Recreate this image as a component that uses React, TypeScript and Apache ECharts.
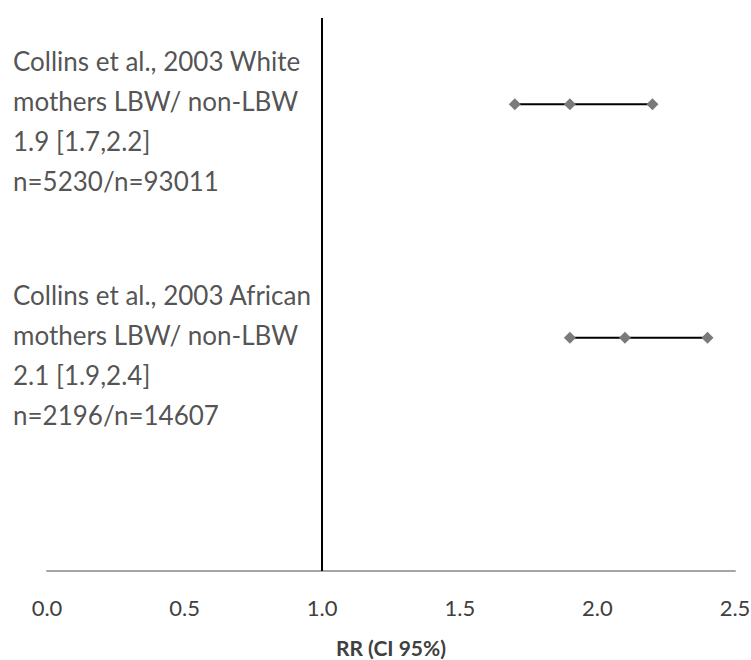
import React, { useEffect, useRef } from "react";
import * as echarts from "echarts";

// Study descriptions, one per row (top to bottom)
const studyLabels = [
  "Collins et al., 2003 White\nmothers LBW/ non-LBW\n1.9 [1.7,2.2]\nn=5230/n=93011",
  "Collins et al., 2003 African\nmothers LBW/ non-LBW\n2.1 [1.9,2.4]\nn=2196/n=14607",
];
// Row position of each study on the vertical value scale
const rowPositions = [2, 1];
// Relative risk point estimates and 95% CI bounds
const estimates = [1.9, 2.1];
const lowerCI = [1.7, 1.9];
const upperCI = [2.2, 2.4];
// Line of no effect
const nullValue = 1;
const xTicks = [0, 0.5, 1, 1.5, 2, 2.5];

const FONT = "Lato, 'Noto Sans', sans-serif";

export default function App() {
  const ref = useRef<HTMLDivElement>(null);

  useEffect(() => {
    if (!ref.current) return;
    const chart = echarts.init(ref.current, undefined, { renderer: "svg" });

    const ciSeries = studyLabels.map((_, i) => ({
      type: "line" as const,
      name: `ci${i}`,
      data: [
        [lowerCI[i], rowPositions[i]],
        [estimates[i], rowPositions[i]],
        [upperCI[i], rowPositions[i]],
      ],
      symbol: "diamond",
      symbolSize: 12,
      showSymbol: true,
      itemStyle: { color: "#7a7a7a" },
      lineStyle: { color: "#000000", width: 2 },
      z: 3,
      silent: true,
    }));

    // Study descriptions anchored at the left end of each row
    const labelSeries = {
      type: "scatter" as const,
      name: "labels",
      data: studyLabels.map((text, i) => ({
        name: text,
        value: [xTicks[0], rowPositions[i]],
      })),
      symbolSize: 0,
      silent: true,
      label: {
        show: true,
        position: "inside",
        align: "left",
        verticalAlign: "middle",
        offset: [-34, 17],
        formatter: (p: { name: string }) => p.name,
        fontFamily: FONT,
        fontSize: 26,
        lineHeight: 40,
        color: "#262626",
      },
    };

    chart.setOption({
      animation: false,
      textStyle: { fontFamily: FONT },
      grid: {
        left: 47,
        right: 16,
        top: 18,
        bottom: 89,
        containLabel: false,
        outerBoundsMode: "none",
      },
      xAxis: {
        type: "value",
        min: xTicks[0],
        max: xTicks[xTicks.length - 1],
        interval: 0.5,
        name: "RR (CI 95%)",
        nameLocation: "middle",
        nameGap: 66,
        nameTextStyle: {
          fontFamily: FONT,
          fontWeight: "bold",
          fontSize: 21,
          color: "#404040",
        },
        axisLine: { show: true, lineStyle: { color: "#a6a6a6", width: 2 } },
        axisTick: { show: false },
        splitLine: { show: false },
        axisLabel: {
          fontFamily: FONT,
          fontSize: 22,
          color: "#404040",
          margin: 25,
          formatter: (v: number) => v.toFixed(1),
          showMinLabel: true,
          showMaxLabel: true,
        },
      },
      yAxis: {
        type: "value",
        min: 0,
        max: 2.37,
        axisLine: { show: false },
        axisTick: { show: false },
        splitLine: { show: false },
        axisLabel: { show: false },
      },
      series: [
        ...ciSeries,
        labelSeries,
        {
          type: "line",
          name: "null",
          data: [],
          silent: true,
          markLine: {
            silent: true,
            symbol: ["none", "none"],
            label: { show: false },
            lineStyle: { color: "#000000", width: 2, type: "solid" },
            data: [{ xAxis: nullValue }],
          },
        },
      ],
    });

    return () => chart.dispose();
  }, []);

  return (
    <div
      ref={ref}
      style={{ position: "fixed", left: 0, top: 0, width: 751, height: 660, background: "#ffffff" }}
    />
  );
}
